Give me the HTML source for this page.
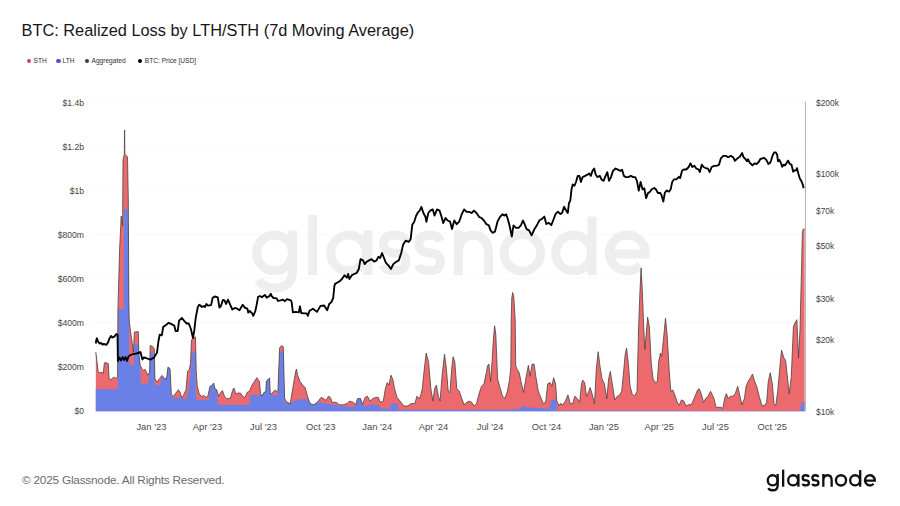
<!DOCTYPE html>
<html><head><meta charset="utf-8"><style>
html,body{margin:0;padding:0;background:#fff;}
body{width:900px;height:506px;overflow:hidden;position:relative;font-family:"Liberation Sans",sans-serif;}
.t{position:absolute;white-space:nowrap;}
#title{left:21.5px;top:20.4px;font-size:16.35px;color:#161616;line-height:20px;}
.lg{position:absolute;top:56px;font-size:6.6px;color:#2e2e2e;line-height:9px;white-space:nowrap;}
.dot{position:absolute;width:4.4px;height:4.4px;border-radius:50%;top:58.6px;}
#foot{left:22px;top:473.1px;font-size:11.8px;color:#6c6c6c;letter-spacing:-0.22px;line-height:14px;}
svg{position:absolute;left:0;top:0;}
</style></head><body>
<div class="t" id="title">BTC: Realized Loss by LTH/STH (7d Moving Average)</div>
<div class="dot" style="left:26.9px;background:#c94463"></div><div class="lg" style="left:33.6px">STH</div>
<div class="dot" style="left:56.4px;background:#5b50c8"></div><div class="lg" style="left:62.6px">LTH</div>
<div class="dot" style="left:84.7px;background:#3c3c3c"></div><div class="lg" style="left:91.5px">Aggregated</div>
<div class="dot" style="left:137.6px;background:#000"></div><div class="lg" style="left:144.8px">BTC: Price [USD]</div>
<svg width="900" height="506" viewBox="0 0 900 506">
<g stroke="#fafafa" stroke-width="1"><line x1="93" x2="805" y1="102.2" y2="102.2" /><line x1="93" x2="805" y1="146.3" y2="146.3" /><line x1="93" x2="805" y1="190.4" y2="190.4" /><line x1="93" x2="805" y1="234.5" y2="234.5" /><line x1="93" x2="805" y1="278.6" y2="278.6" /><line x1="93" x2="805" y1="322.6" y2="322.6" /><line x1="93" x2="805" y1="366.7" y2="366.7" /></g>
<g fill="none" stroke="#eeeeee" stroke-width="9"><circle cx="274.5" cy="252.9" r="17.9"/><path d="M292.6,230.5 L292.6,270 C292.6,284 284,288 275,288 C267,288 261.5,285 258.5,280"/><path d="M312.5,215 L312.5,275.3"/><circle cx="348.6" cy="252.9" r="17.9"/><path d="M367.9,230.5 L367.9,275.3"/><path d="M406.0,241.0 C404.0,236.0 399.7,235.0 394.7,235.0 C386.8,235.0 383.4,238.5 383.4,243.5 C383.4,250.4 390.2,252.9 394.7,252.9 C401.5,252.9 406.0,255.9 406.0,261.4 C406.0,267.8 401.5,270.8 394.7,270.8 C389.0,270.8 384.4,268.8 383.4,264.8"/><path d="M440.5,241.0 C438.5,236.0 434.4,235.0 429.6,235.0 C422.0,235.0 418.7,238.5 418.7,243.5 C418.7,250.4 425.2,252.9 429.6,252.9 C436.1,252.9 440.5,255.9 440.5,261.4 C440.5,267.8 436.1,270.8 429.6,270.8 C424.1,270.8 419.7,268.8 418.7,264.8"/><path d="M458.3,230.5 L458.3,275.3 M458.3,253 C458.3,241.5 465,235 473.4,235 C482,235 488.5,241.5 488.5,253 L488.5,275.3"/><circle cx="522.4" cy="252.9" r="18.3"/><circle cx="573.6" cy="252.9" r="17.9"/><path d="M592.1,216.5 L592.1,275.3"/><path d="M609.4,253.9 L645.2,253.9 A17.9,17.9 0 1,0 640.6,264.9"/></g>
<path d="M95.8,411.3 L95.8,352 L97,362 L98.2,372 L99.9,372.9 L101.6,372 L103.2,373.7 L104.4,362.8 L106.1,362.8 L108.3,363.6 L109.1,378.7 L110.8,379.6 L114.2,377 L115.8,378.7 L117.2,377 L117.6,377 L117.9,310 L119.6,250 L121.2,216 L122.6,226 L123,160 L124.6,154 L127.5,157 L128.3,200 L128.8,300 L129.3,322 L131.5,338 L133.4,352 L134.4,332 L138.3,331.6 L138.9,355 L140.2,365.3 L141.9,368.7 L143.6,370.3 L145.3,369.5 L146.4,372 L147.8,375.4 L149.6,372 L150.2,345.5 L152.5,346.5 L154.3,349 L154.9,378.7 L157,382.1 L159.5,378.7 L162,375.4 L164.6,378.7 L166.6,378.7 L168,367 L170,368.7 L171.3,393.9 L173.4,396.4 L175.9,393 L178.4,389.7 L180.1,392.2 L181.8,398 L183.4,395.5 L186,389.7 L187.6,371.2 L189.3,369.5 L190.5,363.6 L191.5,340 L193.2,337.5 L195.5,337 L196.2,370.3 L197.2,385.5 L198.9,393 L201.1,396.4 L203.6,395.5 L206.1,397.2 L207.8,396.4 L210,386.3 L212,385.5 L213.7,383 L215,388.8 L216.7,389.7 L218.7,396.4 L220.4,393 L222.4,390.5 L224.6,396.4 L227.1,398.9 L230.5,398 L232.5,390.5 L233.9,388 L235.9,393.9 L238.1,393 L240.3,393 L242.3,395.5 L244.8,398 L247.3,392.2 L249.5,391.2 L252,385 L254.4,381.4 L256.9,377.7 L259.4,381.4 L260.6,393.7 L261.9,396.2 L264.3,392 L265.8,392 L266.4,381 L269.6,378 L270.3,394 L271.7,393.7 L273.7,391.2 L275.4,390 L277.9,392.5 L279.6,348 L281.6,345.6 L283.3,346.8 L284.6,398.6 L287,402.3 L290.2,403.6 L292.7,388.8 L295.2,374 L296.4,369 L297.7,375.2 L300.1,381.4 L302.6,385 L305.1,387.5 L307.5,396.2 L310,403.6 L313.7,404.8 L317.4,402.3 L321.1,397.4 L323.6,398.6 L326,400.5 L328.5,396.2 L330.4,397.4 L332.2,402.3 L335.9,402.3 L339.6,404.8 L343.3,404.8 L347,403.6 L349.5,401.1 L353.2,402.3 L355.6,404.8 L357.6,398.6 L360.6,398.6 L362.5,404.8 L365,397.4 L367.5,396.2 L370,401.1 L372.9,398.6 L375.4,397.4 L378.3,397.4 L380.3,402.3 L383.3,401.1 L385.3,388.8 L387.2,382.6 L389,385.1 L390.9,375.2 L392.7,378.9 L394.6,388.8 L397.1,397.4 L400.1,401.1 L403.8,406 L407.5,406 L411.2,403.6 L414.9,403.6 L416.9,396.2 L419.8,398.6 L422.3,388.8 L424.3,369 L426.2,353 L428.5,361.6 L430.9,388.8 L432.9,401.1 L434.6,388.8 L436.4,385.1 L438.3,396.2 L440.1,401.1 L442,376.4 L444.5,354.2 L446.4,369 L448.2,391.2 L449.9,392.5 L451.9,366.5 L453.1,356.7 L454.8,361.6 L456.8,388.8 L459.3,391.2 L461.8,398.6 L464.2,404.8 L466.7,402.3 L469.2,401.1 L471.6,402.3 L474.1,406 L476.6,403.6 L479,393.7 L481.5,386.3 L484,383.8 L486,374 L487.7,365.3 L488.9,364.1 L490.6,381.4 L492.1,361.6 L493.4,339.4 L494.6,325.8 L495.8,334.4 L497.6,378.9 L500,387.5 L502.5,396.2 L505,398.6 L507.4,391.2 L509.5,380 L510.8,368 L511.2,320 L511.8,298 L512.7,292.5 L513.8,297 L515.2,320 L515.7,366 L517.3,369.5 L519.3,373 L521,381.4 L523.5,392.5 L526,377.7 L528.4,365.3 L530.1,376.4 L532.1,364.1 L534.1,364.1 L535.8,376.4 L538.3,391.2 L540.8,397.4 L543.2,403.6 L545.7,402.3 L547.7,383.8 L550.1,382.6 L551.9,386.3 L553.6,377.7 L555.6,383.8 L556.8,401.1 L559.3,406 L560.5,403.6 L562.9,404.8 L565.4,401.1 L567.9,394.9 L570.3,403.6 L572.8,403.6 L574.8,396.2 L577.3,398.6 L579.7,402.3 L581.5,383.8 L582.7,380.1 L584.7,382.6 L586.4,396.2 L588.9,391.2 L590.1,387.5 L592.1,393.7 L594.5,403.6 L596.3,369 L598.2,351.7 L600,366.5 L602,378.9 L604.4,383.8 L606.9,398.6 L608.6,378.9 L610.3,371.5 L612.3,383.8 L614.8,399.9 L617.3,396.2 L619.7,394.9 L621.7,391.2 L623.4,374 L625.2,354.2 L626.6,348 L628.4,364.1 L630.1,386.3 L632.1,393.7 L634.5,396.2 L637,391.2 L638.5,330 L640,290 L641.1,268.2 L642.3,290 L643.6,324.6 L644.9,349.3 L646.4,332 L647.6,317.2 L649.4,327 L651.3,364.1 L653.1,378.9 L655.5,382.6 L657.3,381.4 L658.7,361.6 L660.5,353 L661.7,356.7 L663.7,336.9 L665.5,318.2 L667.1,334.4 L669.1,369 L670.8,391.2 L672.8,390 L675.3,396.2 L676,398.6 L677.7,403.6 L679.4,404.8 L681.4,399.9 L683.9,401.1 L685.9,406 L688.3,404.8 L690.8,404.8 L692.5,402.3 L695,396.2 L697.5,390 L699.2,388.8 L701.2,393.7 L703.6,402.3 L705.6,398.6 L708.1,396.2 L710.5,391.2 L712.3,394.9 L714,398.6 L716,407.3 L720.9,407.3 L722.9,408.5 L724.6,398.6 L726.3,393.7 L728.3,398.6 L730.3,396.2 L732.8,396.2 L735.2,393.7 L737.7,386.3 L739.4,393.7 L741.9,404.8 L744.4,398.6 L746.1,386.3 L748.1,381.4 L750.5,377.7 L752.5,374 L754.2,380.1 L756.7,386.3 L759.2,396.2 L761.7,404.8 L764.1,406 L766.6,402.3 L768.3,381.4 L770.3,372.7 L772.3,383.8 L774,403.6 L775.7,406 L777.7,391.2 L779.7,369 L781.5,350 L783.9,357.9 L785.6,360.4 L787.6,378.9 L789.2,394 L791.3,376.4 L793.4,327 L794.5,323.7 L796.9,319.7 L798.5,358 L800,329.6 L801.5,270 L802.4,232 L803.4,229 L804.6,229 L804.6,411.3 Z" fill="#ec6a6e"/>
<path d="M95.8,411.3 L95.8,389 L97,389 L98.2,389 L99.9,389 L101.6,389 L103.2,389 L104.4,389 L106.1,389 L108.3,389 L109.1,389 L110.8,389 L114.2,389 L115.8,389 L117.2,389 L117.6,389 L117.8,389 L117.9,375.7 L118.4,309 L119.6,309 L121.2,309 L122.6,309 L123,309 L123.6,309 L124,209 L124.6,209 L127.5,209 L127.6,209 L128.3,227.4 L128.4,230 L128.8,300 L128.9,304.4 L129.3,365 L131.5,365 L133.4,365 L133.8,365 L134.4,344 L138.3,344 L138.9,355 L140.2,365.3 L141,383.8 L141.9,383.8 L143.6,383.8 L145.3,383.8 L146.4,383.8 L147.8,383.8 L149.6,372 L150.2,352 L152.5,353.1 L154.3,354 L154.9,385 L157,385 L159.5,385 L160,385 L162,375.4 L164.6,378.7 L166.6,378.7 L168,367 L170,368.7 L171.3,397 L173.4,397.3 L175.9,397.6 L178.4,397.9 L180.1,398.1 L181.8,398.4 L183.4,398.6 L186,398.9 L187.6,394.5 L187.8,394 L189.3,383.4 L190.2,377 L190.5,371.9 L191.5,354.7 L191.6,353 L193.2,352.2 L195.4,351 L195.5,359.2 L195.9,392 L196.2,395.8 L196.5,399.7 L197.2,399.7 L198.9,399.7 L201.1,399.7 L203.6,399.7 L206.1,399.7 L207.8,399.7 L208.6,399.7 L210,386.3 L212,385.5 L213.7,383 L215,388.8 L216.7,389.7 L218,404.8 L218.7,404.8 L220.4,404.8 L222.4,404.8 L224.6,404.8 L227.1,404.8 L230.5,404.8 L232.5,404.8 L233.9,404.8 L235.9,404.8 L238.1,404.8 L240.3,404.8 L242.3,404.8 L244.8,404.8 L247.3,404.8 L249.5,404.8 L250,395 L252,395 L254.4,395 L256.9,395 L259.4,395 L260.6,393.7 L261.9,396.2 L264.3,392 L265.8,392 L266.4,381 L269.6,378 L270.3,394 L271.7,395 L273.7,395 L275.4,395 L277.9,395 L279.2,358.5 L279.6,351.7 L281.6,351.7 L283.3,351.7 L284.6,402.3 L287,402.6 L290.2,403.6 L292.7,401.7 L295.2,400.4 L296,400 L296.4,399.9 L297.7,399.7 L300.1,399.3 L302.6,398.9 L305,398.5 L305.1,398.5 L307.5,399.4 L310,403.6 L312,404.2 L313.7,404.8 L317.4,402.3 L321.1,402.6 L323.6,403.1 L326,403.5 L328.5,403.9 L330.4,404.2 L332.2,404.5 L335.9,405.1 L339.6,405.8 L341,406 L343.3,406.2 L347,406.4 L349.5,406.6 L353.2,406.8 L355.6,407 L357.6,398.6 L360.6,398.6 L362.5,406 L365,405.6 L367.5,405.2 L370,404.8 L372.9,404.8 L375.4,404.8 L378.3,404.8 L379,404.8 L380.3,408.5 L383.3,408.5 L385.3,408.5 L387.2,408.5 L389,408.5 L390,408.5 L390.9,403.6 L392.7,403.6 L394.6,403.6 L397.1,403.6 L397.6,403.6 L398.5,409.8 L400.1,409.8 L403.8,409.8 L407.5,409.8 L411.2,409.8 L414.9,409.8 L416.9,409.8 L419.8,409.8 L422.3,409.8 L424.3,409.8 L426.2,409.8 L428.5,409.8 L430.9,409.8 L432.9,409.8 L434.6,409.8 L436.4,409.8 L438.3,409.8 L440.1,409.8 L442,409.8 L444.5,409.8 L446.4,409.8 L448.2,409.8 L449.9,409.8 L451.9,409.8 L453.1,409.8 L454.8,409.8 L456.8,409.8 L459.3,409.8 L461.8,409.8 L464.2,409.8 L466.7,409.8 L469.2,409.8 L471.6,409.8 L474.1,409.8 L476.6,409.8 L479,409.8 L481.5,409.8 L484,409.8 L486,409.8 L487.7,409.8 L488.9,409.8 L490.6,409.8 L492.1,409.8 L493.4,409.8 L494.6,409.8 L495.8,409.8 L497.6,409.8 L500,409.8 L502.5,409.8 L505,409.8 L507.4,409.8 L509.5,409.8 L510.8,409.8 L511,409.8 L511.2,409.6 L511.8,409 L512,408.8 L512.7,408.8 L513.8,408.8 L515.2,408.8 L515.7,408.8 L516,408.8 L517,410.3 L517.3,410.1 L519.3,408.8 L521,407.7 L523.5,406 L526,406.8 L528.4,407.5 L530.1,407.6 L532.1,407.6 L534.1,407.7 L535.8,407.8 L538.3,407.9 L540.8,408 L543.2,408.3 L545.7,408.6 L547.7,408.8 L549,409 L550.1,404.7 L550.8,402 L551.9,400.1 L552.5,399 L553.6,399.3 L555.6,399.9 L556,400 L556.8,410.3 L558,410.6 L559.3,410.6 L560.5,410.6 L562.9,410.6 L565.4,410.6 L567.9,410.6 L570.3,410.6 L572.8,410.6 L574.8,410.6 L577.3,410.6 L579.7,410.6 L581.5,410.6 L582.7,410.6 L584.7,410.6 L586.4,410.6 L588.9,410.6 L590.1,410.6 L592.1,410.6 L594.5,410.6 L596.3,410.6 L598.2,410.6 L600,410.6 L602,410.6 L604.4,410.6 L606.9,410.6 L608.6,410.6 L610.3,410.6 L612.3,410.6 L614.8,410.6 L617.3,410.6 L619.7,410.6 L621.7,410.6 L623.4,410.6 L625.2,410.6 L626.6,410.6 L628.4,410.6 L630.1,410.6 L632.1,410.6 L634.5,410.6 L637,410.6 L638.5,410.6 L640,410.6 L641.1,410.6 L642.3,410.6 L643.6,410.6 L644.9,410.6 L646.4,410.6 L647.6,410.6 L649.4,410.6 L651.3,410.6 L653.1,410.6 L655.5,410.6 L657.3,410.6 L658.7,410.6 L660.5,410.6 L661.7,410.6 L663.7,410.6 L665.5,410.6 L667.1,410.6 L669.1,410.6 L670.8,410.6 L672.8,410.6 L675.3,410.6 L676,410.6 L677.7,410.6 L679.4,410.7 L681.4,410.7 L683.9,410.7 L685.9,410.7 L688.3,410.7 L690.8,410.7 L692.5,410.7 L695,410.7 L697.5,410.7 L699.2,410.7 L701.2,410.7 L703.6,410.7 L705.6,410.7 L708.1,410.7 L710.5,410.7 L712.3,410.7 L714,410.7 L716,410.7 L720.9,410.7 L722.9,410.7 L724.6,410.7 L726.3,410.7 L728.3,410.7 L730.3,410.7 L732.8,410.7 L735.2,410.7 L737.7,410.7 L739.4,410.7 L741.9,410.7 L744.4,410.7 L746.1,410.7 L748.1,410.7 L750.5,410.7 L752.5,410.7 L754.2,410.7 L756.7,410.7 L759.2,410.7 L761.7,410.7 L764.1,410.7 L766.6,410.7 L768.3,410.7 L770.3,410.7 L772.3,410.7 L774,410.7 L775.7,410.7 L777.7,410.7 L779.7,410.7 L781.5,410.7 L783.9,410.7 L785.6,410.7 L787.6,410.7 L789.2,410.7 L791.3,410.7 L793.4,410.7 L794.5,410.7 L796.9,410.7 L798.5,410.7 L800,410.7 L801.5,403 L802.4,402.7 L803.4,402.4 L804.6,402 L804.6,411.3 Z" fill="#6a80e6"/>
<path d="M95.8,352 L97,362 L98.2,372 L99.9,372.9 L101.6,372 L103.2,373.7 L104.4,362.8 L106.1,362.8 L108.3,363.6 L109.1,378.7 L110.8,379.6 L114.2,377 L115.8,378.7 L117.2,377 L117.6,377 L117.9,310 L119.6,250 L121.2,216 L122.6,226 L123,160 L124.3,154 L124.6,130 L124.9,154 L127.5,157 L128.3,200 L128.8,300 L129.3,322 L131.5,338 L133.4,352 L134.4,332 L138.3,331.6 L138.9,355 L140.2,365.3 L141.9,368.7 L143.6,370.3 L145.3,369.5 L146.4,372 L147.8,375.4 L149.6,372 L150.2,345.5 L152.5,346.5 L154.3,349 L154.9,378.7 L157,382.1 L159.5,378.7 L162,375.4 L164.6,378.7 L166.6,378.7 L168,367 L170,368.7 L171.3,393.9 L173.4,396.4 L175.9,393 L178.4,389.7 L180.1,392.2 L181.8,398 L183.4,395.5 L186,389.7 L187.6,371.2 L189.3,369.5 L190.5,363.6 L191.5,340 L193.2,337.5 L195.5,337 L196.2,370.3 L197.2,385.5 L198.9,393 L201.1,396.4 L203.6,395.5 L206.1,397.2 L207.8,396.4 L210,386.3 L212,385.5 L213.7,383 L215,388.8 L216.7,389.7 L218.7,396.4 L220.4,393 L222.4,390.5 L224.6,396.4 L227.1,398.9 L230.5,398 L232.5,390.5 L233.9,388 L235.9,393.9 L238.1,393 L240.3,393 L242.3,395.5 L244.8,398 L247.3,392.2 L249.5,391.2 L252,385 L254.4,381.4 L256.9,377.7 L259.4,381.4 L260.6,393.7 L261.9,396.2 L264.3,392 L265.8,392 L266.4,381 L269.6,378 L270.3,394 L271.7,393.7 L273.7,391.2 L275.4,390 L277.9,392.5 L279.6,348 L281.6,345.6 L283.3,346.8 L284.6,398.6 L287,402.3 L290.2,403.6 L292.7,388.8 L295.2,374 L296.4,369 L297.7,375.2 L300.1,381.4 L302.6,385 L305.1,387.5 L307.5,396.2 L310,403.6 L313.7,404.8 L317.4,402.3 L321.1,397.4 L323.6,398.6 L326,400.5 L328.5,396.2 L330.4,397.4 L332.2,402.3 L335.9,402.3 L339.6,404.8 L343.3,404.8 L347,403.6 L349.5,401.1 L353.2,402.3 L355.6,404.8 L357.6,398.6 L360.6,398.6 L362.5,404.8 L365,397.4 L367.5,396.2 L370,401.1 L372.9,398.6 L375.4,397.4 L378.3,397.4 L380.3,402.3 L383.3,401.1 L385.3,388.8 L387.2,382.6 L389,385.1 L390.9,375.2 L392.7,378.9 L394.6,388.8 L397.1,397.4 L400.1,401.1 L403.8,406 L407.5,406 L411.2,403.6 L414.9,403.6 L416.9,396.2 L419.8,398.6 L422.3,388.8 L424.3,369 L426.2,353 L428.5,361.6 L430.9,388.8 L432.9,401.1 L434.6,388.8 L436.4,385.1 L438.3,396.2 L440.1,401.1 L442,376.4 L444.5,354.2 L446.4,369 L448.2,391.2 L449.9,392.5 L451.9,366.5 L453.1,356.7 L454.8,361.6 L456.8,388.8 L459.3,391.2 L461.8,398.6 L464.2,404.8 L466.7,402.3 L469.2,401.1 L471.6,402.3 L474.1,406 L476.6,403.6 L479,393.7 L481.5,386.3 L484,383.8 L486,374 L487.7,365.3 L488.9,364.1 L490.6,381.4 L492.1,361.6 L493.4,339.4 L494.6,325.8 L495.8,334.4 L497.6,378.9 L500,387.5 L502.5,396.2 L505,398.6 L507.4,391.2 L509.5,380 L510.8,368 L511.2,320 L511.8,298 L512.7,292.5 L513.8,297 L515.2,320 L515.7,366 L517.3,369.5 L519.3,373 L521,381.4 L523.5,392.5 L526,377.7 L528.4,365.3 L530.1,376.4 L532.1,364.1 L534.1,364.1 L535.8,376.4 L538.3,391.2 L540.8,397.4 L543.2,403.6 L545.7,402.3 L547.7,383.8 L550.1,382.6 L551.9,386.3 L553.6,377.7 L555.6,383.8 L556.8,401.1 L559.3,406 L560.5,403.6 L562.9,404.8 L565.4,401.1 L567.9,394.9 L570.3,403.6 L572.8,403.6 L574.8,396.2 L577.3,398.6 L579.7,402.3 L581.5,383.8 L582.7,380.1 L584.7,382.6 L586.4,396.2 L588.9,391.2 L590.1,387.5 L592.1,393.7 L594.5,403.6 L596.3,369 L598.2,351.7 L600,366.5 L602,378.9 L604.4,383.8 L606.9,398.6 L608.6,378.9 L610.3,371.5 L612.3,383.8 L614.8,399.9 L617.3,396.2 L619.7,394.9 L621.7,391.2 L623.4,374 L625.2,354.2 L626.6,348 L628.4,364.1 L630.1,386.3 L632.1,393.7 L634.5,396.2 L637,391.2 L638.5,330 L640,290 L641.1,268.2 L642.3,290 L643.6,324.6 L644.9,349.3 L646.4,332 L647.6,317.2 L649.4,327 L651.3,364.1 L653.1,378.9 L655.5,382.6 L657.3,381.4 L658.7,361.6 L660.5,353 L661.7,356.7 L663.7,336.9 L665.5,318.2 L667.1,334.4 L669.1,369 L670.8,391.2 L672.8,390 L675.3,396.2 L676,398.6 L677.7,403.6 L679.4,404.8 L681.4,399.9 L683.9,401.1 L685.9,406 L688.3,404.8 L690.8,404.8 L692.5,402.3 L695,396.2 L697.5,390 L699.2,388.8 L701.2,393.7 L703.6,402.3 L705.6,398.6 L708.1,396.2 L710.5,391.2 L712.3,394.9 L714,398.6 L716,407.3 L720.9,407.3 L722.9,408.5 L724.6,398.6 L726.3,393.7 L728.3,398.6 L730.3,396.2 L732.8,396.2 L735.2,393.7 L737.7,386.3 L739.4,393.7 L741.9,404.8 L744.4,398.6 L746.1,386.3 L748.1,381.4 L750.5,377.7 L752.5,374 L754.2,380.1 L756.7,386.3 L759.2,396.2 L761.7,404.8 L764.1,406 L766.6,402.3 L768.3,381.4 L770.3,372.7 L772.3,383.8 L774,403.6 L775.7,406 L777.7,391.2 L779.7,369 L781.5,350 L783.9,357.9 L785.6,360.4 L787.6,378.9 L789.2,394 L791.3,376.4 L793.4,327 L794.5,323.7 L796.9,319.7 L798.5,358 L800,329.6 L801.5,270 L802.4,232 L803.4,229 L804.6,229" fill="none" stroke="#4a4040" stroke-width="0.8" stroke-linejoin="round"/>
<path d="M95.8,343.5 L96.3,340 L96.9,338.3 L98,341.5 L99.5,343.5 L101,343 L102.5,344.5 L104,344 L106.5,344.8 L108.2,342 L109.5,338.5 L111,336 L112.5,337.5 L114,336.8 L115.2,335.5 L116.3,334 L117.5,334.5 L117.9,361 L119.5,357.5 L121,360.5 L122.5,357 L124,360 L125.5,357 L127,361 L128.5,356.5 L130,355.3 L133,354 L136.5,353.5 L139.7,352.5 L140.4,352 L142.4,359.5 L143.8,357.5 L146,358 L148.2,358.8 L150.7,359.5 L154.2,357.4 L157,352.6 L158.4,341.5 L159.7,334.6 L161.8,335.3 L163.2,327 L166,324.9 L168.7,322.8 L171.5,324.2 L174.3,325.6 L175.6,331 L177.7,331 L179.1,320.7 L181.9,318 L184.6,321.4 L186.7,323.5 L188.8,323.5 L190.9,329 L193,338 L194.3,330.4 L195.7,318 L197.8,306.9 L199.2,304.8 L200.5,305.5 L202,307 L204,306 L205,307 L206.3,304 L207.9,305.5 L211.1,305.1 L212.6,298 L214.6,296.5 L216.6,297 L217.8,297.3 L219.4,307.5 L220.9,306 L222.9,300 L224.5,300.4 L226.1,304 L228,299.6 L230,304.4 L232.4,309.5 L234.8,307.9 L237.1,308.7 L239.5,310.3 L242.7,304.7 L245,307.9 L247.4,308.7 L248.2,312.6 L249.8,311 L252.1,313.4 L253.3,315.8 L255.3,311.1 L256.5,305.5 L258.1,296.8 L260,296 L262,297.2 L264.8,294.9 L266.7,297.6 L269.5,296 L270.8,293.7 L271.6,296 L273.5,298 L276.7,298.4 L277.9,300.8 L280.6,300.4 L282.6,299.6 L285,301.2 L287,299.2 L290.9,300.4 L291.7,302.4 L292.9,312.3 L295.6,311.9 L298.8,312.3 L300,306.3 L301.2,313 L304.3,313.4 L306.7,313.4 L307.9,315.8 L309.5,310.7 L313,308.7 L317,311.9 L320.5,305.9 L324.1,305.5 L327.2,310.3 L329.2,304 L331.2,302.4 L333.2,298 L334.4,286 L335.1,283.9 L337,282.7 L339.5,281.4 L342,279 L344.4,275.2 L346.9,277.7 L348.1,274 L349.4,279 L351.9,275.2 L354.3,274 L356.8,272.8 L358.8,269 L360.5,259.2 L363,260.4 L364.7,264.1 L366.7,261.7 L369.1,260.4 L371.6,259.2 L374.1,261.7 L376.5,260.4 L378.5,256.7 L380.2,258 L382,253 L384,258 L385.9,262.9 L388.4,265.4 L390.9,269 L393.3,264.1 L396.3,261.7 L398.8,260.4 L401.2,253 L403.2,244.4 L405.7,240.7 L408.6,241.9 L410.6,239.4 L412.3,224.6 L414.1,222.2 L416,216 L418,212.3 L419.7,210.6 L421.4,206.9 L423.4,213 L425.4,216.8 L426.4,221.7 L428.3,213 L430.3,210.6 L432.8,209.4 L434.5,215.6 L437,209.4 L439.5,210.6 L441.2,215.6 L443.2,223 L445.6,218 L447.6,220.5 L450.1,221.7 L452,229.1 L454.3,220.5 L456.7,224.2 L459.2,221.7 L461.7,214.3 L464.1,209.4 L466.6,211.9 L469.1,211.9 L471.6,213 L474,210.6 L476.5,213 L479,216.8 L481.4,218 L483.9,220.5 L486.4,224.2 L488.8,225.4 L490.6,230.4 L492.5,232.8 L495,231.6 L497.5,221.7 L500,216.8 L502.4,214.3 L504.4,215.6 L506.1,214.3 L507.9,219.3 L509.8,226.7 L511.8,236.5 L513.5,225.4 L516,227.9 L518.5,227.9 L520.9,225.4 L522.9,220.5 L524.6,224.2 L526.6,229.1 L529.1,230.4 L531.6,235.3 L534.5,229 L536.9,225.2 L539.4,220.3 L541.9,219 L544.3,216.6 L546.3,224 L548.8,222.8 L551.3,225.2 L553.7,219 L555.5,214.1 L557.9,211.7 L560.4,214.1 L562.1,212.9 L564.1,206.7 L566.1,210.4 L567.8,212.9 L569,203 L570.3,200.6 L571.5,189.4 L572.7,184.5 L574.5,185.7 L576,182 L577.7,175.9 L579.4,175.9 L580.9,182 L582.6,177.1 L585.1,175.9 L587.6,174.6 L589.3,173.4 L590.8,175.9 L592.5,170.9 L594.2,168.5 L595.7,174.6 L597.4,177.1 L599.9,175.9 L601.6,179.6 L603.6,180.8 L605.6,175.9 L607.3,172.2 L609,180.8 L611,177.1 L613,170.9 L615.5,168.5 L617.9,169.7 L620.4,170.9 L622.1,169.7 L623.9,175.9 L625.8,177.1 L628.3,177.1 L630.8,175.9 L633.2,177.1 L635.2,177.1 L636.9,180.8 L638.7,190.7 L640.6,182 L642.6,189.4 L644.3,188.2 L646.1,198.1 L648,193.1 L650,191.8 L651.7,189.3 L654.2,188 L655.9,189.3 L657.9,193 L660.3,193 L661.6,195.4 L663.3,201.6 L664.8,193 L666.5,190.5 L669,191.7 L670.7,189.3 L672.2,181.9 L673.9,179.4 L676.4,179.4 L678.9,176.9 L680.1,178.1 L682.1,170.7 L683.8,169.5 L686.3,169.5 L688.7,167 L690.5,163.3 L692.4,167 L694.4,165.8 L696.1,168.3 L698.6,169.5 L699.9,172 L701.8,164.6 L703.6,167 L706,168.3 L707.8,168.3 L709.7,172 L711.7,167 L714.2,165.8 L716.6,165.8 L719.1,164.6 L720.8,158.4 L723.3,155.9 L725.8,155.9 L728.2,157.2 L730.7,155.9 L733.2,157.2 L734.9,160.9 L737.4,158.4 L740,156.4 L742.1,153 L743.5,157.1 L745.5,159.2 L746.9,161.3 L748,159.2 L749.7,162.7 L751.1,164 L752.4,165.4 L754.5,163.4 L756.6,164 L758.7,162 L760.5,158.8 L762.1,158.5 L764.2,157.8 L766.3,159.9 L768.4,164 L770,163 L771.1,160.6 L772.5,155.7 L774.3,152.3 L775.7,152.3 L777.1,154.4 L778,161.3 L779.4,159.9 L780.8,162.7 L782.2,166.8 L783.6,164.7 L785,165.4 L786.7,162.7 L788.1,160.6 L789.8,164 L791.5,164.7 L793.2,171.7 L794.6,170.3 L796,170.3 L797,168.2 L798.4,173.7 L799.8,178.6 L801.5,181.3 L802.9,184.8 L803.6,188.2" fill="none" stroke="#000" stroke-width="1.85" stroke-linejoin="round"/>
<line x1="805.4" x2="805.4" y1="101.5" y2="411.3" stroke="#9a9a9a" stroke-width="0.8"/>
<g font-family="Liberation Sans" font-size="8.6" fill="#444" text-anchor="end"><text x="84" y="105.8">$1.4b</text><text x="84" y="149.9">$1.2b</text><text x="84" y="194">$1b</text><text x="84" y="238.1">$800m</text><text x="84" y="282.2">$600m</text><text x="84" y="326.2">$400m</text><text x="84" y="370.3">$200m</text><text x="84" y="414.4">$0</text></g>
<g font-family="Liberation Sans" font-size="8.4" fill="#444"><text x="816" y="105.7">$200k</text><text x="816" y="177.3">$100k</text><text x="816" y="214.1">$70k</text><text x="816" y="248.9">$50k</text><text x="816" y="301.6">$30k</text><text x="816" y="343.4">$20k</text><text x="816" y="415">$10k</text></g>
<g font-family="Liberation Sans" font-size="9.4" fill="#4a4a4a" text-anchor="middle"><text x="151.4" y="429.8">Jan '23</text><text x="207.4" y="429.8">Apr '23</text><text x="263.5" y="429.8">Jul '23</text><text x="320.7" y="429.8">Oct '23</text><text x="377.3" y="429.8">Jan '24</text><text x="433.5" y="429.8">Apr '24</text><text x="490.1" y="429.8">Jul '24</text><text x="546.5" y="429.8">Oct '24</text><text x="603.9" y="429.8">Jan '25</text><text x="659.2" y="429.8">Apr '25</text><text x="715.5" y="429.8">Jul '25</text><text x="772.2" y="429.8">Oct '25</text></g>
</svg>
<div class="t" id="foot">© 2025 Glassnode. All Rights Reserved.</div>
<svg width="900" height="506" viewBox="0 0 900 506"><g fill="none" stroke="#111" stroke-width="8.4" transform="translate(697.02,408.8) scale(0.2756,0.283)"><circle cx="274.5" cy="252.9" r="17.9"/><path d="M292.6,230.5 L292.6,270 C292.6,284 284,288 275,288 C267,288 261.5,285 258.5,280"/><path d="M312.5,215 L312.5,275.3"/><circle cx="348.6" cy="252.9" r="17.9"/><path d="M367.9,230.5 L367.9,275.3"/><path d="M406.0,241.0 C404.0,236.0 399.7,235.0 394.7,235.0 C386.8,235.0 383.4,238.5 383.4,243.5 C383.4,250.4 390.2,252.9 394.7,252.9 C401.5,252.9 406.0,255.9 406.0,261.4 C406.0,267.8 401.5,270.8 394.7,270.8 C389.0,270.8 384.4,268.8 383.4,264.8"/><path d="M440.5,241.0 C438.5,236.0 434.4,235.0 429.6,235.0 C422.0,235.0 418.7,238.5 418.7,243.5 C418.7,250.4 425.2,252.9 429.6,252.9 C436.1,252.9 440.5,255.9 440.5,261.4 C440.5,267.8 436.1,270.8 429.6,270.8 C424.1,270.8 419.7,268.8 418.7,264.8"/><path d="M458.3,230.5 L458.3,275.3 M458.3,253 C458.3,241.5 465,235 473.4,235 C482,235 488.5,241.5 488.5,253 L488.5,275.3"/><circle cx="522.4" cy="252.9" r="18.3"/><circle cx="573.6" cy="252.9" r="17.9"/><path d="M592.1,216.5 L592.1,275.3"/><path d="M609.4,253.9 L645.2,253.9 A17.9,17.9 0 1,0 640.6,264.9"/></g></svg>
</body></html>
